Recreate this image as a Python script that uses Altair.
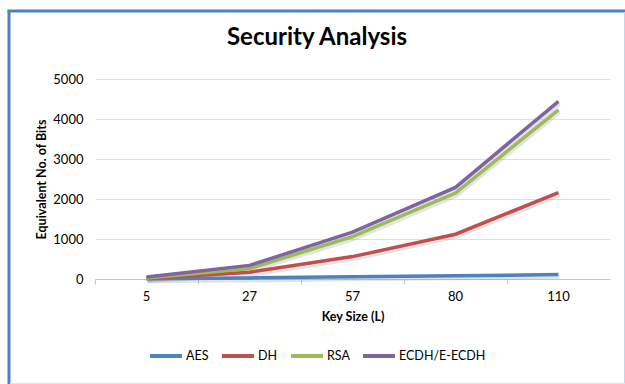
import altair as alt
import pandas as pd

# Key sizes (category axis) and equivalent bit counts per scheme
key_sizes = ["5", "27", "57", "80", "110"]
aes_bits = [5, 27, 57, 80, 110]
dh_bits = [10, 170, 560, 1120, 2160]
rsa_bits = [25, 260, 1060, 2150, 4230]
ecdh_bits = [50, 340, 1170, 2290, 4440]

series_names = ["AES", "DH", "RSA", "ECDH/E-ECDH"]
series_colors = ["#4F81BD", "#C0504D", "#9BBB59", "#8064A2"]
y_ticks = [0, 1000, 2000, 3000, 4000, 5000]
chart_title = "Security Analysis"

rows = []
for name, vals in zip(series_names, [aes_bits, dh_bits, rsa_bits, ecdh_bits]):
    for k, v in zip(key_sizes, vals):
        rows.append({"key": k, "series": name, "bits": v})
df = pd.DataFrame(rows)

FONT = "Lato"
GRID = "#D6E1F0"
AXIS_LINE = "#B9C9E2"

x_enc = alt.X(
    "key:O",
    sort=key_sizes,
    scale=alt.Scale(type="band", paddingInner=0, paddingOuter=0),
    axis=alt.Axis(
        title="Key Size (L)",
        labelAngle=0,
        bandPosition=0,
        grid=False,
        domainColor=AXIS_LINE,
        tickColor=AXIS_LINE,
        tickSize=5,
        labelPadding=6,
        labelFont=FONT,
        labelFontSize=13,
        labelColor="#000000",
        titleFont=FONT,
        titleFontSize=12.5,
        titleFontWeight="bold",
        titleColor="#000000",
        titlePadding=7,
    ),
)

y_enc = alt.Y(
    "bits:Q",
    scale=alt.Scale(domain=[0, 5000], nice=False),
    axis=alt.Axis(
        title="Equivalent No. of Bits",
        values=y_ticks,
        format="d",
        grid=True,
        gridColor=GRID,
        gridWidth=1,
        domain=False,
        ticks=False,
        labelPadding=12,
        labelFont=FONT,
        labelFontSize=13,
        labelColor="#000000",
        titleFont=FONT,
        titleFontSize=12.5,
        titleFontWeight="bold",
        titleColor="#000000",
        titlePadding=4,
    ),
)

# soft drop shadow under each line
shadow = alt.Chart(df).mark_line(
    color="#7F7F7F", opacity=0.22, strokeWidth=4, xOffset=1, yOffset=2.5
).encode(x=x_enc, y=y_enc, detail="series:N")

lines = alt.Chart(df).mark_line(strokeWidth=3.5).encode(
    x=x_enc,
    y=y_enc,
    color=alt.Color(
        "series:N",
        sort=series_names,
        scale=alt.Scale(domain=series_names, range=series_colors),
        legend=alt.Legend(
            title=None,
            orient="none",
            direction="horizontal",
            legendX=53,
            legendY=259,
            symbolType="stroke",
            symbolSize=1024,
            symbolStrokeWidth=4,
            labelFont=FONT,
            labelFontSize=12.5,
            labelColor="#000000",
            labelOffset=2,
            columnPadding=5,
        ),
    ),
    order=alt.Order("series:N"),
)

single = alt.Data(values=[{"k": 0}])

# chart heading
heading = alt.Chart(single).mark_text(
    font=FONT, fontSize=24, fontWeight="bold", color="#000000",
    align="center", baseline="middle",
).encode(x=alt.value(222), y=alt.value(-41), text=alt.value(chart_title))

# outer chart frame
left_edge = alt.Chart(single).mark_rule(color="#4F81BD", strokeWidth=3).encode(
    x=alt.value(-86), y=alt.value(-69), y2=alt.value(305)
)
top_edge = alt.Chart(single).mark_rule(color="#4F81BD", strokeWidth=3).encode(
    x=alt.value(-87.5), x2=alt.value(530), y=alt.value(-68)
)
right_edge = alt.Chart(single).mark_rule(color="#C5D5EE", strokeWidth=1).encode(
    x=alt.value(529.5), y=alt.value(-67), y2=alt.value(305)
)
bottom_edge = alt.Chart(single).mark_rule(color="#E4E4E4", strokeWidth=1).encode(
    x=alt.value(-85), x2=alt.value(530), y=alt.value(304.5)
)

chart = (
    alt.layer(left_edge, top_edge, right_edge, bottom_edge, heading, shadow, lines)
    .properties(
        width=515,
        height=200,
        padding={"left": 95, "top": 79, "right": 15, "bottom": 105},
        autosize=alt.AutoSizeParams(type="none"),
        background="#FFFFFF",
    )
    .configure_view(stroke=None)
)

chart.save("out.html", embed_options={"renderer": "svg", "actions": False})
